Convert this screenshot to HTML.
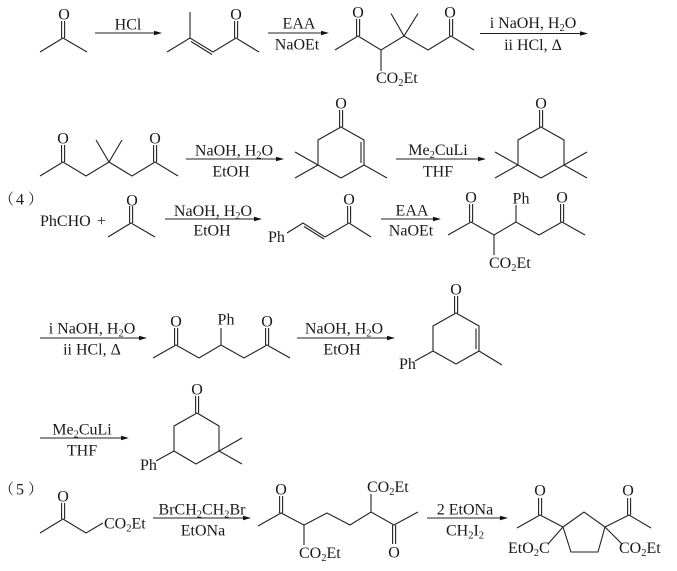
<!DOCTYPE html>
<html><head><meta charset="utf-8"><style>
html,body{margin:0;padding:0;background:#fff}
svg{display:block}
text{font-family:"Liberation Serif","Noto Serif CJK SC",serif;font-size:16px;fill:#1a1a1a}
.m{text-anchor:middle}
.c{font-family:"Noto Serif CJK SC","Liberation Serif",serif;font-size:15px}
.b{fill:none;stroke:#222;stroke-width:1.1;stroke-linejoin:miter}
.h{fill:#111}
</style></head><body>
<svg width="677" height="571" viewBox="0 0 677 571" xmlns="http://www.w3.org/2000/svg">
<g class="b">
<!-- row 1 -->
<path d="M40 52L63 38L87 52M61.6 38V21M64.6 38V21"/>
<path d="M95 33H156"/>
<path d="M167 52L190 38L213 52L236 38L259 52M190 38V12M191 41.5L212 54.5M234.6 38V21M237.6 38V21"/>
<path d="M268 33H322"/>
<path d="M335 50L358 36L381 50L404 36L428 50L451 36L474 50M391 13.5L404 36L418 13.5M356.6 36V19M359.6 36V19M449.6 36V19M452.6 36V19M381 50V71"/>
<path d="M480 33.5H581"/>
<!-- row 2 -->
<path d="M40 176L63 162L86 176L109 162L132 176L155 162L178 176M96 140L109 162L122 140M61.6 162V145M64.6 162V145M153.6 162V145M156.6 162V145"/>
<path d="M186 159H277"/>
<path d="M341 127L364 140V165L341 178L318 165V140ZM339.6 127V110M342.6 127V110M361 142V163M295 152L318 165L295 178M364 165L387 178"/>
<path d="M396 159H479"/>
<path d="M541 127L564 140V165L541 178L518 165V140ZM539.6 127V110M542.6 127V110M495 152L518 165L495 178M587 152L564 165L587 178"/>
<!-- row 3 -->
<path d="M108 237L131 223L155 237M129.6 223V206M132.6 223V206"/>
<path d="M165 219H255"/>
<path d="M287 233L303 223L325 237L349 223L371 237M304 226.5L324 239M347.6 223V206M350.6 223V206"/>
<path d="M381 219H434"/>
<path d="M448 235L471 222L494 235L516 222L539 235L562 222L585 235M469.6 222V204M472.6 222V204M560.6 222V204M563.6 222V204M516 222V205M494 235V255"/>
<!-- row 4 -->
<path d="M40 338H140"/>
<path d="M153 358L176 345L199 358L221 345L244 358L267 345L290 358M174.6 345V328M177.6 345V328M265.6 345V328M268.6 345V328M221 345V328"/>
<path d="M297 338H388"/>
<path d="M456 313L479 326V351L456 364L433 351V326ZM454.6 313V296M457.6 313V296M476 328.5V349M479 351L502 365M433 351L415 361"/>
<!-- row 5 -->
<path d="M40 438H122"/>
<path d="M197 413L219 426V451L196 464L174 451V426ZM195.6 413V396M198.6 413V396M242 438L219 451L242 464M174 451L156 461"/>
<path d="M40 533L63 519L86 533L103 523M61.6 519V503M64.6 519V503"/>
<path d="M153 518H244"/>
<path d="M258 526L281 513L304 525L327 513L350 525L371 512L394 525L418 512M279.6 513V496M282.6 513V496M304 525V545M371 512V494M392.6 525V544M395.6 525V544"/>
<path d="M427 518H501"/>
<path d="M563 527L584 512L605 527L598 552H571ZM517 528L540 515L563 527M651 528L629 515L605 527M538.6 515V498M541.6 515V498M627.6 515V498M630.6 515V498M563 527L548 544M605 527L622 544"/>
</g>
<g class="h">
<path d="M162 33L154 30.8V35.2Z"/><path d="M329 33L321 30.8V35.2Z"/><path d="M588 33.5L580 31.3V35.7Z"/>
<path d="M284 159L276 156.8V161.2Z"/><path d="M486 159L478 156.8V161.2Z"/>
<path d="M262 219L254 216.8V221.2Z"/><path d="M441 219L433 216.8V221.2Z"/>
<path d="M147 338L139 335.8V340.2Z"/><path d="M395 338L387 335.8V340.2Z"/>
<path d="M129 438L121 435.8V440.2Z"/><path d="M251 518L243 515.8V520.2Z"/><path d="M508 518L500 515.8V520.2Z"/>
</g>
<!-- row 1 text -->
<text class="m" x="64" y="19.5">O</text>
<text class="m" x="128" y="29.5">HCl</text>
<text class="m" x="236" y="19.5">O</text>
<text class="m" x="299" y="28.5">EAA</text>
<text class="m" x="297" y="49.5">NaOEt</text>
<text class="m" x="358" y="17.5">O</text>
<text class="m" x="450" y="17.5">O</text>
<text x="376" y="83">CO<tspan font-size="10.5" dy="3">2</tspan><tspan dy="-3">Et</tspan></text>
<text class="m" x="533" y="28">i NaOH, H<tspan font-size="10.5" dy="3">2</tspan><tspan dy="-3">O</tspan></text>
<text class="m" x="533" y="50">ii HCl, Δ</text>
<!-- row 2 text -->
<text class="m" x="63" y="143.5">O</text>
<text class="m" x="155" y="143.5">O</text>
<text class="m" x="234" y="155.5">NaOH, H<tspan font-size="10.5" dy="3">2</tspan><tspan dy="-3">O</tspan></text>
<text class="m" x="231" y="176.5">EtOH</text>
<text class="m" x="341" y="108.5">O</text>
<text class="m" x="438" y="155">Me<tspan font-size="10.5" dy="3">2</tspan><tspan dy="-3">CuLi</tspan></text>
<text class="m" x="438" y="176.5">THF</text>
<text class="m" x="541" y="108.5">O</text>
<!-- row 3 text -->
<text class="c" x="-1" y="204">（</text><text x="16" y="204.5">4</text><text class="c" x="28" y="204">）</text>
<text x="40" y="226">PhCHO</text>
<text x="97" y="226">+</text>
<text class="m" x="132" y="205.5">O</text>
<text class="m" x="213" y="216">NaOH, H<tspan font-size="10.5" dy="3">2</tspan><tspan dy="-3">O</tspan></text>
<text class="m" x="212" y="235.5">EtOH</text>
<text x="268" y="242">Ph</text>
<text class="m" x="349" y="204.5">O</text>
<text class="m" x="412" y="215.5">EAA</text>
<text class="m" x="411" y="235.5">NaOEt</text>
<text class="m" x="471" y="202.5">O</text>
<text class="m" x="562" y="202.5">O</text>
<text class="m" x="521" y="203.5">Ph</text>
<text x="489" y="268">CO<tspan font-size="10.5" dy="3">2</tspan><tspan dy="-3">Et</tspan></text>
<!-- row 4 text -->
<text class="m" x="92" y="333.5">i NaOH, H<tspan font-size="10.5" dy="3">2</tspan><tspan dy="-3">O</tspan></text>
<text class="m" x="92" y="354.5">ii HCl, Δ</text>
<text class="m" x="176" y="326.5">O</text>
<text class="m" x="267" y="326.5">O</text>
<text class="m" x="226" y="324.5">Ph</text>
<text class="m" x="344" y="333.5">NaOH, H<tspan font-size="10.5" dy="3">2</tspan><tspan dy="-3">O</tspan></text>
<text class="m" x="342" y="354.5">EtOH</text>
<text class="m" x="456" y="294.5">O</text>
<text x="399" y="369">Ph</text>
<!-- row 5 text -->
<text class="m" x="82" y="434.5">Me<tspan font-size="10.5" dy="3">2</tspan><tspan dy="-3">CuLi</tspan></text>
<text class="m" x="82" y="455.5">THF</text>
<text class="m" x="197" y="394.5">O</text>
<text x="140" y="470">Ph</text>
<!-- row 6 text -->
<text class="c" x="-1" y="494">（</text><text x="16" y="494.5">5</text><text class="c" x="28" y="494">）</text>
<text class="m" x="63" y="501.5">O</text>
<text x="104" y="528.5">CO<tspan font-size="10.5" dy="3">2</tspan><tspan dy="-3">Et</tspan></text>
<text class="m" x="202" y="514.5">BrCH<tspan font-size="10.5" dy="3">2</tspan><tspan dy="-3">CH</tspan><tspan font-size="10.5" dy="3">2</tspan><tspan dy="-3">Br</tspan></text>
<text class="m" x="203" y="535.5">EtONa</text>
<text class="m" x="281" y="494.5">O</text>
<text x="299" y="558">CO<tspan font-size="10.5" dy="3">2</tspan><tspan dy="-3">Et</tspan></text>
<text x="367" y="492">CO<tspan font-size="10.5" dy="3">2</tspan><tspan dy="-3">Et</tspan></text>
<text class="m" x="394" y="557.5">O</text>
<text class="m" x="465" y="514.5">2 EtONa</text>
<text class="m" x="465" y="535.5">CH<tspan font-size="10.5" dy="3">2</tspan><tspan dy="-3">I</tspan><tspan font-size="10.5" dy="3">2</tspan></text>
<text class="m" x="540" y="495.5">O</text>
<text class="m" x="628" y="495.5">O</text>
<text x="508" y="553">EtO<tspan font-size="10.5" dy="3">2</tspan><tspan dy="-3">C</tspan></text>
<text x="619" y="553">CO<tspan font-size="10.5" dy="3">2</tspan><tspan dy="-3">Et</tspan></text>
</svg>
</body></html>
